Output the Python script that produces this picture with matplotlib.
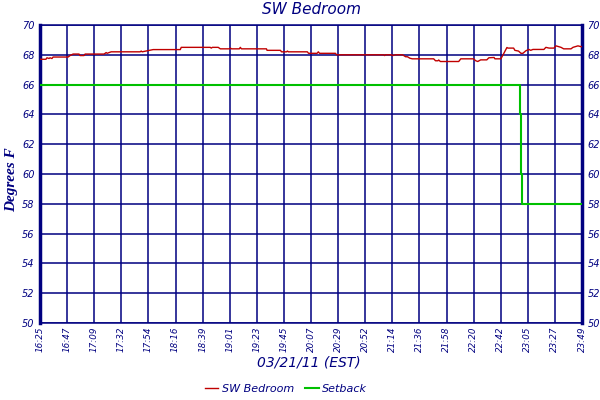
import matplotlib
matplotlib.use('Agg')
import matplotlib.pyplot as plt

# minutes after 16:25 and temperature of the room
temp_min = [0, 4.9, 5.7, 7.4, 8.2, 9.8, 10.7, 23, 24.6, 27.1, 32, 32.8, 36.1, 36.9,
            52.5, 54.2, 55, 56.6, 58.3, 82, 82.9, 83.7, 92.7, 114.9, 115.7, 139.5,
            140.3, 141.2, 146, 147.7, 155, 156, 156.8, 163.3, 164.1, 165, 185.5, 186,
            197, 197.8, 202, 202.7, 203.5, 219, 220, 227, 228, 229, 242, 243, 281.5,
            282.3, 283, 288, 289, 291, 297, 299.5, 301, 303, 305, 322.5, 324, 326,
            326.6, 328, 343, 344.7, 355, 357, 358.6, 361, 366, 367.7, 372, 372.6,
            377.5, 380, 382.5, 383.3, 388, 389, 392, 394, 395.6, 398, 400.5, 402,
            403.8, 412.8, 414.4, 417, 421, 422.7, 426.8, 429, 435, 436.6, 440.7, 443, 444]
temp_val = [67.7, 67.7, 67.8, 67.75, 67.8, 67.75, 67.85, 67.85, 67.95, 68.05, 68.05, 67.95,
            67.95, 68.05, 68.05, 68.15, 68.1, 68.15, 68.2, 68.2, 68.25, 68.2, 68.35, 68.35,
            68.5, 68.5, 68.45, 68.5, 68.5, 68.4, 68.4, 68.45, 68.4, 68.4, 68.5, 68.4, 68.4,
            68.3, 68.3, 68.2, 68.2, 68.25, 68.2, 68.2, 68.1, 68.1, 68.2, 68.1, 68.1, 68.0,
            68.0, 67.95, 68.0, 68.0, 67.95, 68.0, 68.0, 67.87, 67.87, 67.77, 67.73, 67.73,
            67.6, 67.6, 67.65, 67.55, 67.55, 67.73, 67.73, 67.6, 67.55, 67.66, 67.66, 67.8,
            67.82, 67.73, 67.73, 68.1, 68.49, 68.45, 68.45, 68.3, 68.25, 68.1, 68.1, 68.27,
            68.36, 68.3, 68.36, 68.36, 68.5, 68.45, 68.45, 68.6, 68.5, 68.4, 68.4, 68.5,
            68.6, 68.55, 68.55]

setback_min = [0, 393.4, 394.2, 395.0, 444]
setback_val = [66, 64, 60, 58, 58]

tick_labels = ['16:25', '16:47', '17:09', '17:32', '17:54', '18:16', '18:39', '19:01',
               '19:23', '19:45', '20:07', '20:29', '20:52', '21:14', '21:36', '21:58',
               '22:20', '22:42', '23:05', '23:27', '23:49']

navy = '#000080'

fig = plt.figure(figsize=(6, 4), dpi=100)
ax = fig.add_axes([40/600, 1-323/400, 542/600, 298/400])

ax.plot(setback_min, setback_val, color='#00c000', lw=1.5, drawstyle='steps-post', label='Setback', zorder=3)
ax.plot(temp_min, temp_val, color='#c00000', lw=1.0, label='SW Bedroom', zorder=4)

ax.set_xlim(0, 444)
ax.set_ylim(50, 70)
xt = [i * 444 / 20 for i in range(21)]
ax.set_xticks(xt)
ax.set_xticklabels(tick_labels, rotation=90, fontsize=6.3, style='italic', color=navy)
ax.set_yticks(range(50, 71, 2))
ax.tick_params(axis='y', labelsize=7, labelcolor=navy, length=0, labelright=True, pad=4)
for t in ax.yaxis.get_major_ticks():
    t.label1.set_style('italic')
    t.label2.set_style('italic')
ax.tick_params(axis='x', length=0, pad=2.5)
ax.grid(True, color=navy, lw=1.1)

for s in ['top', 'bottom']:
    ax.spines[s].set_color(navy)
    ax.spines[s].set_linewidth(1.1)
for s in ['left', 'right']:
    ax.spines[s].set_color(navy)
    ax.spines[s].set_linewidth(2.5)

fig.text(311/600, 0.975, 'SW Bedroom', ha='center', va='center', fontsize=11, style='italic', color=navy)
fig.text(309/600, 0.095, '03/21/11 (EST)', ha='center', va='center', fontsize=10, style='italic', color=navy)
fig.text(0.02, 0.55, 'Degrees F', ha='center', va='center', rotation=90, fontsize=11,
         style='italic', weight='bold', family='Liberation Serif', color=navy)

handles, labels = ax.get_legend_handles_labels()
leg = fig.legend(handles[::-1], labels[::-1], loc='center', bbox_to_anchor=(286/600, 0.028), ncol=2,
                 frameon=False, fontsize=8, handlelength=1.2, handletextpad=0.3, columnspacing=1.0)
for txt in leg.get_texts():
    txt.set_color(navy)
    txt.set_style('italic')

fig.savefig('out.png', dpi=100)
